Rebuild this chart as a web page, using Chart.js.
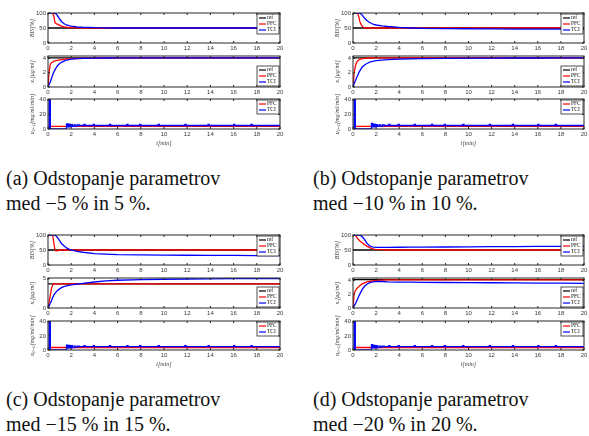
<!DOCTYPE html>
<html>
<head>
<meta charset="utf-8">
<script src="https://cdn.jsdelivr.net/npm/chart.js@4.4.0/dist/chart.umd.min.js"></script>
<style>
body { margin:0; background:#fff; width:589px; height:436px; position:relative; overflow:hidden; }
canvas { position:absolute; }
.cap { position:absolute; font-family:"Liberation Serif", serif; font-size:20px; line-height:25px; color:#111; white-space:nowrap; }
</style>
</head>
<body>
<div class="cap" style="left:6px;top:166px">(a) Odstopanje parametrov<br>med −5 % in 5 %.</div>
<div class="cap" style="left:313px;top:166px">(b) Odstopanje parametrov<br>med −10 % in 10 %.</div>
<div class="cap" style="left:6px;top:387px">(c) Odstopanje parametrov<br>med −15 % in 15 %.</div>
<div class="cap" style="left:313px;top:387px">(d) Odstopanje parametrov<br>med −20 % in 20 %.</div>
<script>
// time axes [min]
var tBis = [0, 0.2, 0.4, 0.5, 0.6, 0.7, 0.8, 0.9, 1.0, 1.1, 1.2, 1.4, 1.6, 1.8, 2, 2.5, 3, 4, 5, 6, 8, 10, 12, 14, 16, 18, 20]
var tXe = [0, 0.1, 0.2, 0.3, 0.4, 0.5, 0.6, 0.8, 1.0, 1.2, 1.5, 2, 2.5, 3, 4, 5, 6, 8, 10, 12, 14, 16, 18, 20]
var tU = [0, 0.1, 0.2, 1.6, 1.7, 1.8, 1.9, 2.0, 2.1, 2.25, 2.4, 2.55, 2.7, 3.1, 3.2, 3.9, 4.0, 5.3, 5.4, 6.8, 6.9, 7.9, 8.0, 9.5, 9.6, 11.8, 11.9, 13.8, 13.9, 16.0, 16.1, 17.5, 17.6, 20]
var tUPfc = [0, 20]
var tRef = [0, 20]

// reference values
var bisRef = [50, 50]
var xeRef = [4.1, 4.1]

// BIS [%]
var bisPfcA = [100,100,100,90,68,65,63,61,59,57,56,54,52.5,51.5,51,50.5,50,50,50,50,50,50,50,50,50,50,50]
var bisTciA = [100,100,100,100,99,97,92,86,80,75,70,64,60,58,56.5,54,52.5,51,50.5,50,50,50,50,50,50,50,50]
var bisPfcB = [100,100,100,88,70,62,56,52,50.5,50,50,50,50,50,50,50,50,50,50,50,50,50,50,50,50,50,50]
var bisTciB = [100,100,100,100,99,97,93,88,83,79,75,69,65,62,60,57,55,52,50,49,48,47.5,47,46.5,46,46,45.5]
var bisPfcC = [100,100,100,75,50,47,47.5,49,50,50,50,50,50,50,50,50,50,50,50,50,50,50,50,50,50,50,50]
var bisTciC = [100,100,100,100,99,97,92,87,81,75,70,63,57,53,50,45.5,42.5,38,36,34.5,33.5,33,32.5,32,31.8,31.5,31]
var bisPfcD = [100,100,88,84,80,77,74,71,68,66,63,59,55,53,52,51,50,50,50,50,50,50,50,50,50,50,50]
var bisTciD = [100,100,100,100,99,97,94,90,85,79,73,65,61,59.5,59,59,59,59.2,59.5,59.7,60,60.5,61,61.5,62,62.2,62.5]

// x_e [ug/ml]
var xePfcA = [0,2.2,3.2,3.4,3.5,3.6,3.65,3.75,3.8,3.85,3.9,3.97,4.0,4.03,4.05,4.07,4.08,4.08,4.08,4.08,4.08,4.08,4.08,4.08]
var xeTciA = [0,0.35,0.75,1.2,1.7,2.1,2.4,2.95,3.3,3.5,3.72,3.9,3.98,4.02,4.05,4.07,4.08,4.08,4.08,4.08,4.08,4.08,4.08,4.08]
var xePfcB = [0,2.0,2.9,3.4,3.65,3.8,3.88,3.97,4.02,4.05,4.07,4.08,4.08,4.08,4.08,4.08,4.08,4.08,4.08,4.08,4.08,4.08,4.08,4.08]
var xeTciB = [0,0.45,0.85,1.25,1.6,2.0,2.3,2.8,3.1,3.3,3.53,3.7,3.78,3.83,3.9,3.95,3.98,4.02,4.05,4.06,4.07,4.07,4.08,4.08]
var xePfcC = [0,1.0,2.2,3.3,3.9,4.15,4.12,4.1,4.1,4.1,4.1,4.1,4.1,4.1,4.1,4.1,4.1,4.1,4.1,4.1,4.1,4.1,4.1,4.1]
var xeTciC = [0,0.4,0.8,1.25,1.8,2.2,2.5,2.95,3.25,3.5,3.72,3.93,4.07,4.18,4.42,4.6,4.72,4.83,4.89,4.93,4.96,4.98,4.99,5.0]
var xePfcD = [0,2.1,2.5,2.75,2.95,3.1,3.25,3.5,3.65,3.78,3.88,4.0,4.05,4.07,4.08,4.08,4.08,4.08,4.08,4.08,4.08,4.08,4.08,4.08]
var xeTciD = [0,0.3,0.6,0.95,1.3,1.7,2.05,2.7,3.15,3.45,3.72,3.85,3.84,3.8,3.76,3.74,3.72,3.7,3.68,3.66,3.64,3.62,3.6,3.58]

// u_prop [mg/ml/min], each value holds until the next time point
var uPfcA = [3.5, 3.5]
var uPfcB = [3.5, 3.5]
var uPfcC = [3.5, 3.5]
var uPfcD = [3.5, 3.5]
var uTciA = [0,41,0,7,3,6.5,3,6,3.5,5.5,4,5.5,4.8,6.3,4.8,6.3,4.8,6.3,4.8,6.3,4.8,6.3,4.8,6.3,4.8,6.3,4.8,6.3,4.8,6.3,4.8,6.3,4.8,4.8]
var uTciB = [0,41,0,7.5,3,6.5,3,6,3.5,5.5,4,5.5,4.8,6.3,4.8,6.3,4.8,6.3,4.8,6.3,4.8,6.3,4.8,6.3,4.8,6.3,4.8,6.3,4.8,6.3,4.8,6.3,4.8,4.8]
var uTciC = [0,41,0,7,3,6.5,3,6,3.5,5.5,4,5.5,4.8,6.3,4.8,6.3,4.8,6.3,4.8,6.3,4.8,6.3,4.8,6.3,4.8,6.3,4.8,6.3,4.8,6.3,4.8,6.3,4.8,4.8]
var uTciD = [0,41,0,7.5,3,6.5,3,6,3.5,5.5,4,5.5,4.8,6.3,4.8,6.3,4.8,6.3,4.8,6.3,4.8,6.3,4.8,6.3,4.8,6.3,4.8,6.3,4.8,6.3,4.8,6.3,4.8,4.8]

var red = '#ff0000', blue = '#0000ff', black = '#000000'
var axisCol = '#3a3a3a'

// frame with inward ticks + small legend box inside the plot, matlab style
var boxPlugin = {
    id: 'mbox',
    afterDraw: function(chart, args, opts) {
        var ctx = chart.ctx, a = chart.chartArea
        var xs = chart.scales.x, ys = chart.scales.y
        ctx.save()
        ctx.strokeStyle = '#262626'
        ctx.lineWidth = 1
        ctx.strokeRect(a.left, a.top, a.right - a.left, a.bottom - a.top)
        ctx.beginPath()
        xs.ticks.forEach(function(t) {
            var px = xs.getPixelForValue(t.value)
            ctx.moveTo(px, a.bottom); ctx.lineTo(px, a.bottom - 2)
            ctx.moveTo(px, a.top); ctx.lineTo(px, a.top + 2)
        })
        ys.ticks.forEach(function(t) {
            var py = ys.getPixelForValue(t.value)
            ctx.moveTo(a.left, py); ctx.lineTo(a.left + 2, py)
            ctx.moveTo(a.right, py); ctx.lineTo(a.right - 2, py)
        })
        ctx.stroke()

        var items = opts.items || []
        if (items.length) {
            var w = 22, rh = 6, h = items.length * rh + 2
            var bx = a.right - w - 1
            var by = opts.pos == 'bottom' ? a.bottom - h - 1 : a.top + 1
            ctx.fillStyle = '#fff'
            ctx.fillRect(bx, by, w, h)
            ctx.strokeStyle = '#262626'
            ctx.lineWidth = 0.8
            ctx.strokeRect(bx, by, w, h)
            ctx.font = '5.5px "Liberation Serif"'
            ctx.textBaseline = 'middle'
            items.forEach(function(it, i) {
                var y = by + 1 + rh * i + rh / 2
                ctx.strokeStyle = it[1]
                ctx.lineWidth = 1.2
                ctx.beginPath()
                ctx.moveTo(bx + 2, y); ctx.lineTo(bx + 9, y)
                ctx.stroke()
                ctx.fillStyle = '#111'
                ctx.fillText(it[0], bx + 10, y)
            })
        }
        ctx.restore()
    }
}

// order: higher is drawn first, so TCI (1) ends up on top like in matlab
function series(t, vals, color, order, stepped) {
    return {
        data: t.map(function(v, i) { return {x: v, y: vals[i]} }),
        borderColor: color,
        borderWidth: 1.3,
        pointRadius: 0,
        fill: false,
        order: order,
        stepped: stepped ? true : false
    }
}

function drawPanel(pL, pT, pR, pB, datasets, y, legend, last) {
    var cl = pL - 48, ct = pT - 6
    var xh = last ? 18 : 12
    var cv = document.createElement('canvas')
    cv.width = pR + 10 - cl
    cv.height = (pB - pT) + 6 + xh
    cv.style.left = cl + 'px'
    cv.style.top = ct + 'px'
    document.body.appendChild(cv)

    new Chart(cv.getContext('2d'), {
        type: 'line',
        data: { datasets: datasets },
        options: {
            responsive: false,
            animation: false,
            devicePixelRatio: 1,
            layout: { padding: { left: 28, top: 6, right: 10, bottom: 0 } },
            plugins: {
                legend: { display: false },
                tooltip: { enabled: false },
                mbox: legend
            },
            scales: {
                x: {
                    type: 'linear', min: 0, max: 20,
                    grid: { display: false, drawTicks: false },
                    border: { display: false },
                    ticks: { stepSize: 2, maxRotation: 0, autoSkip: false, padding: 2,
                             font: { size: 6, family: 'Liberation Sans' }, color: axisCol },
                    title: { display: !!last, text: 't[min]', padding: 0,
                             font: { size: 6, family: 'Liberation Serif', style: 'italic' }, color: axisCol },
                    afterFit: function(s) { s.height = xh }
                },
                y: {
                    min: 0, max: y.max,
                    grid: { display: false, drawTicks: false },
                    border: { display: false },
                    ticks: { stepSize: y.step, includeBounds: false, padding: 2,
                             font: { size: 6, family: 'Liberation Sans' }, color: axisCol },
                    title: { display: true, text: y.title, padding: { top: 1, bottom: 0 },
                             font: { size: 6, family: 'Liberation Serif', style: 'italic' }, color: axisCol },
                    afterFit: function(s) { s.width = 20 }
                }
            }
        },
        plugins: [boxPlugin]
    })
}

var subfigs = [
    { L: 48, R: 280, T: [13, 56, 99], B: [43, 87, 129], bisPfc: bisPfcA, bisTci: bisTciA, xePfc: xePfcA, xeTci: xeTciA, xeMax: 4.35, xeStep: 2, uPfc: uPfcA, uTci: uTciA },
    { L: 353, R: 584, T: [13, 56, 99], B: [43, 87, 129], bisPfc: bisPfcB, bisTci: bisTciB, xePfc: xePfcB, xeTci: xeTciB, xeMax: 4.35, xeStep: 2, uPfc: uPfcB, uTci: uTciB },
    { L: 48, R: 280, T: [235, 278, 321], B: [265, 308, 350], bisPfc: bisPfcC, bisTci: bisTciC, xePfc: xePfcC, xeTci: xeTciC, xeMax: 5.1, xeStep: 5, uPfc: uPfcC, uTci: uTciC },
    { L: 353, R: 584, T: [235, 278, 321], B: [265, 308, 350], bisPfc: bisPfcD, bisTci: bisTciD, xePfc: xePfcD, xeTci: xeTciD, xeMax: 4.35, xeStep: 2, uPfc: uPfcD, uTci: uTciD }
]

var leg3 = [['ref', black], ['PFC', red], ['TCI', blue]]
var leg2 = [['PFC', red], ['TCI', blue]]

subfigs.forEach(function(f) {
    drawPanel(f.L, f.T[0], f.R, f.B[0],
        [series(tRef, bisRef, black, 3), series(tBis, f.bisPfc, red, 2), series(tBis, f.bisTci, blue, 1)],
        { max: 100, step: 50, title: 'BIS[%]' }, { items: leg3, pos: 'top' })
    drawPanel(f.L, f.T[1], f.R, f.B[1],
        [series(tRef, xeRef, black, 3), series(tXe, f.xePfc, red, 2), series(tXe, f.xeTci, blue, 1)],
        { max: f.xeMax, step: f.xeStep, title: 'xₑ[μg/ml]' }, { items: leg3, pos: 'bottom' })
    drawPanel(f.L, f.T[2], f.R, f.B[2],
        [series(tUPfc, f.uPfc, red, 2, true), series(tU, f.uTci, blue, 1, true)],
        { max: 41, step: 20, title: 'uₚᵣₒₚ[mg/ml/min]' }, { items: leg2, pos: 'top' }, true)
})
</script>
</body>
</html>
